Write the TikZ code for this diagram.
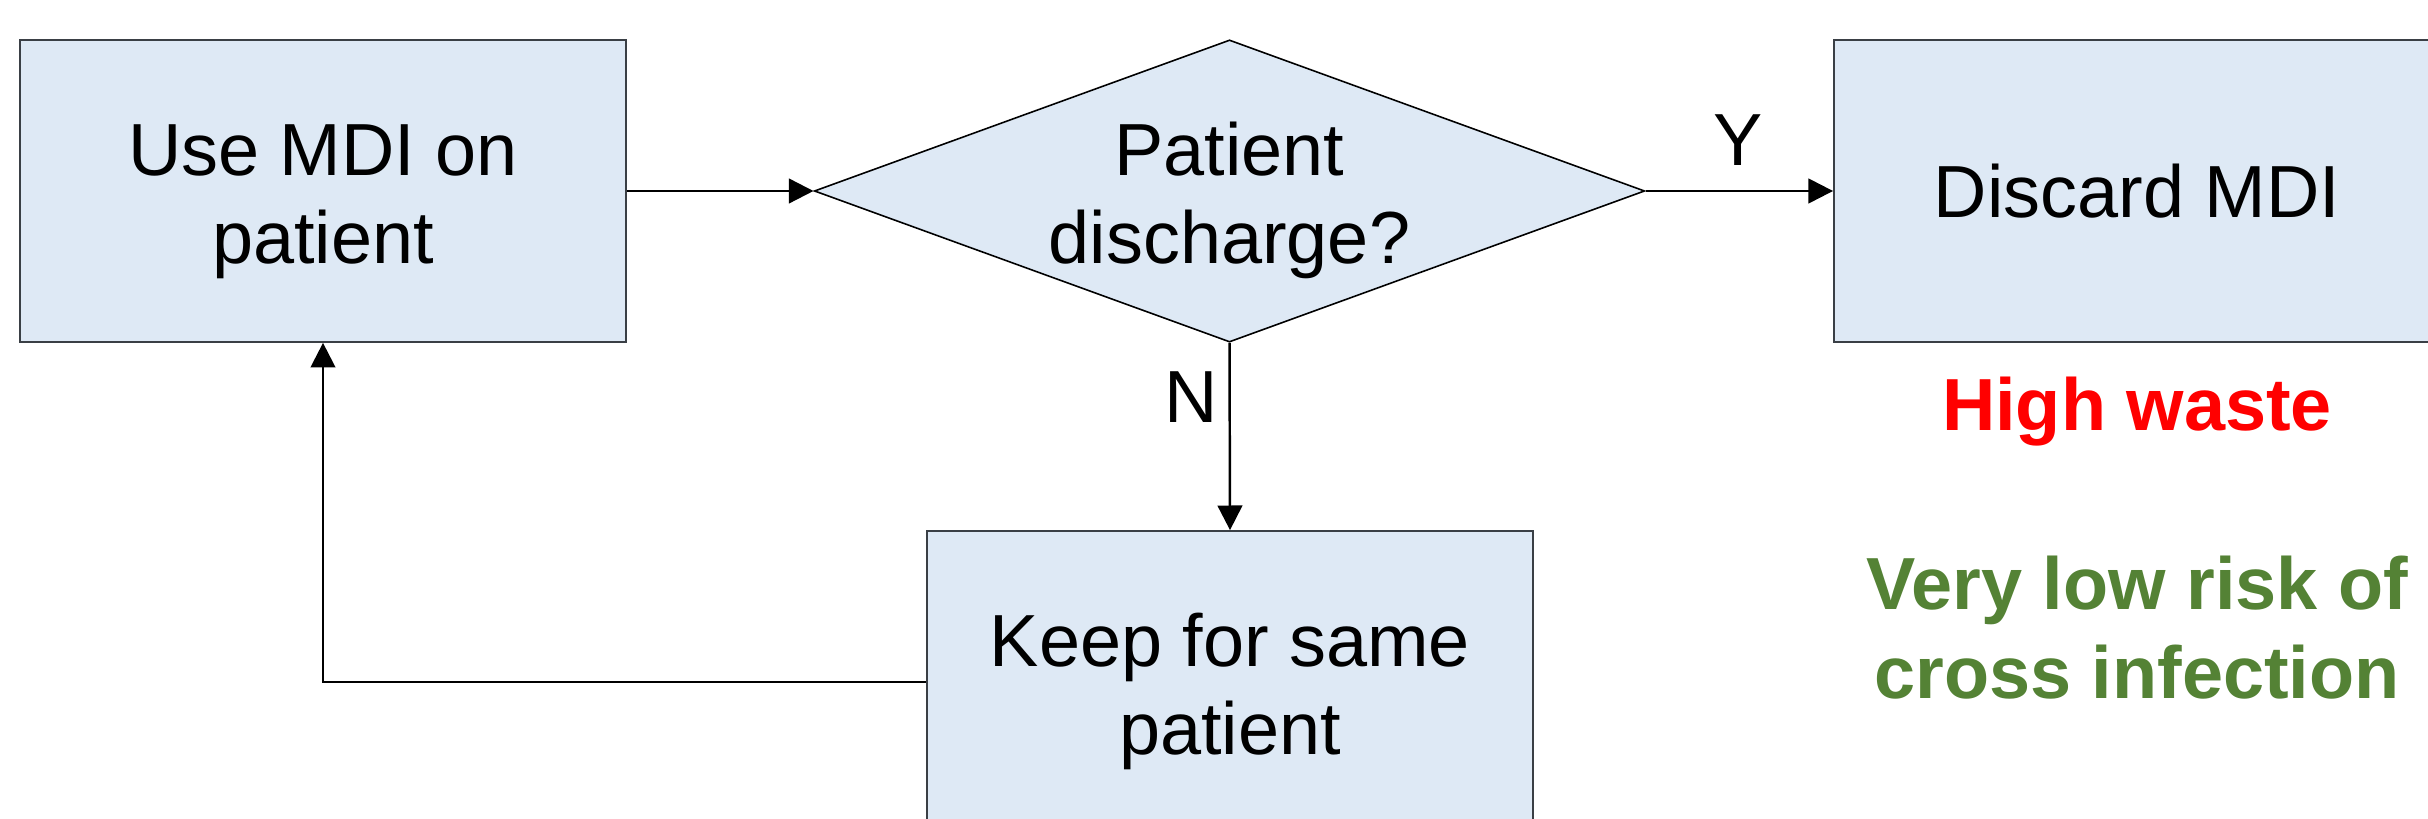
\documentclass[tikz,border=0pt]{standalone}
\usepackage{fontspec}
\setmainfont{Liberation Sans}
\usetikzlibrary{arrows.meta,shapes.geometric}
\definecolor{boxfill}{HTML}{DEE9F5}
\definecolor{boxline}{HTML}{3A3F45}
\definecolor{riskgreen}{HTML}{548235}
\definecolor{wastered}{HTML}{FF0000}
\newcommand{\firststrut}{\rule{0pt}{0.72cm}}
\begin{document}
\begin{tikzpicture}[x=0.01cm,y=-0.01cm,
  txt/.style={font=\fontsize{21}{25.2}\selectfont},
  procbox/.style={txt, draw=boxline, line width=0.45pt, fill=boxfill,
    minimum width=6.06cm, minimum height=3.02cm, align=center, inner sep=0pt},
  decision/.style={txt, diamond, draw=black, line width=0.45pt, fill=boxfill,
    shape aspect=2.75, minimum width=8.3cm, minimum height=3.02cm,
    align=center, inner sep=0pt},
  conn/.style={line width=0.7pt, -{Triangle[length=7pt,width=7pt]}},
  lbl/.style={txt, inner sep=0pt},
  note/.style={font=\fontsize{21}{25.3}\selectfont\bfseries, align=center, inner sep=0pt}]
\clip (0,0) rectangle (2428,819);
\fill[white] (0,0) rectangle (2428,819);

\node[procbox] (use) at (323,191) {\firststrut Use MDI on\\patient};
\node[decision] (dec) at (1229.5,191)
  {\makebox[0pt]{\firststrut Patient}\\\makebox[0pt]{discharge?}};
\node[procbox] (disc) at (2137,191) {Discard MDI};
\node[procbox] (keep) at (1230,682) {\firststrut Keep for same\\patient};

\draw[conn] (use.east) -- (dec.west);
\draw[conn] (dec.east) -- (disc.west);
\draw[conn] (dec.south) -- (keep.north);
\draw[conn] (keep.west) -| (use.south);

\node[lbl] (ylab) at (1738,140) {Y};
\node[lbl] (nlab) at (1191,397) {N};

\node[note, text=wastered] (waste) at (2137,412) {High waste};
\node[note, text=riskgreen] (risk) at (2137,628) {Very low risk of\\cross infection};
\end{tikzpicture}
\end{document}
